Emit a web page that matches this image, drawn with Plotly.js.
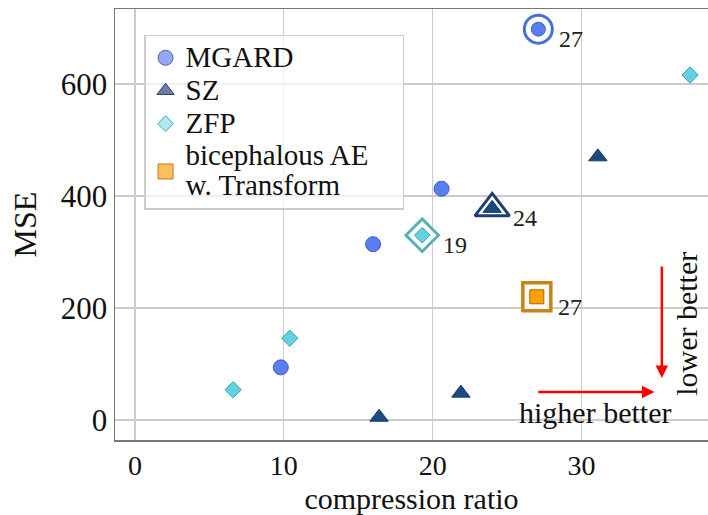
<!DOCTYPE html>
<html><head><meta charset="utf-8">
<script src="https://cdn.plot.ly/plotly-3.0.1.min.js"></script>
<style>html,body{margin:0;padding:0;background:#fff}#chart{width:708px;height:515px}</style>
</head><body><div id="chart"></div>
<script>
// Data
const mgardX = [9.8, 16.0, 20.6];
const mgardY = [94, 314, 413];
const szX = [16.4, 21.9, 31.1];
const szY = [5, 48, 470];
const zfpX = [6.6, 10.4, 37.3];
const zfpY = [54, 146, 616];
// Highlighted (best) configurations with their labels
const bestMgardX = [27.1], bestMgardY = [698], bestMgardLabel = ['27'];
const bestSzX = [24.0], bestSzY = [378], bestSzLabel = ['24'];
const bestZfpX = [19.3], bestZfpY = [330], bestZfpLabel = ['19'];
const aeX = [27.0], aeY = [220], aeLabel = ['27'];
const legendNames = [['MGARD'], ['SZ'], ['ZFP'], ['bicephalous AE', 'w. Transform']];

const F = 'Liberation Serif, Times New Roman, serif';
const traces = [];
function pts(x, y, symbol, size, fill, line, lw) {
  traces.push({x, y, type: 'scatter', mode: 'markers', showlegend: false, hoverinfo: 'skip',
    marker: {symbol, size, color: fill, line: {color: line, width: lw}}});
}
pts(mgardX, mgardY, 'circle', 15, '#5a7ef0', '#3a5cc8', 1);
pts(szX, szY, 'triangle-up', 16, '#1d4a82', '#17386a', 1);
pts(zfpX, zfpY, 'diamond', 12.5, '#62d2e2', '#3a9fb0', 1);
// rings
pts(bestMgardX, bestMgardY, 'circle', 28, '#ffffff', '#4a6fd8', 3);
pts(bestSzX, bestSzY, 'triangle-up', 30, '#ffffff', '#1d3f72', 3);
pts(bestZfpX, bestZfpY, 'diamond', 25, '#ffffff', '#5ab0b8', 3);
pts(aeX, aeY, 'square', 28, '#ffffff', '#c88418', 3.5);
// inner
pts(bestMgardX, bestMgardY, 'circle', 14, '#5a7ef0', '#3a5cc8', 1);
pts(bestSzX, bestSzY, 'triangle-up', 16, '#1d4a82', '#17386a', 1);
pts(bestZfpX, bestZfpY, 'diamond', 12, '#62d2e2', '#3a9fb0', 1);
pts(aeX, aeY, 'square', 14, '#ffa000', '#a86400', 1);
// legend entries
const legSym = ['circle', 'triangle-up', 'diamond', 'square'];
const legSize = [15, 15, 12, 15];
const legFill = ['#93a8f2', '#6a80a6', '#aee8f0', '#ffbe5c'];
const legLine = ['#4a62b0', '#2a4070', '#4aa8b8', '#c07a20'];
const big = s => '<span style="font-size:29px">' + s + '</span>';
legendNames.forEach((n, i) => traces.push({x: [null], y: [null], type: 'scatter', mode: 'markers',
  name: n.map(big).join('<br>') + (i === 3 ? '' : ''),
  marker: {symbol: legSym[i], size: legSize[i], color: legFill[i], line: {color: legLine[i], width: 1}}}));
// widen the legend box a little (reference has spare room on the right)
traces[traces.length - 1].name = big(legendNames[3][0] + '&nbsp;&nbsp;&nbsp;&nbsp;') + '<br>' + big(legendNames[3][1]);

const ann = [];
function lab(x, y, t) {
  ann.push({x, y, text: t, showarrow: false, xanchor: 'left', yanchor: 'middle', xshift: 19, yshift: -10,
    font: {family: F, size: 24, color: '#222'}});
}
lab(bestMgardX[0], bestMgardY[0], bestMgardLabel[0]);
lab(bestSzX[0], bestSzY[0], bestSzLabel[0]);
lab(bestZfpX[0], bestZfpY[0], bestZfpLabel[0]);
lab(aeX[0], aeY[0], aeLabel[0]);
ann.push({x: 34.9, y: 50, ax: 27.0, ay: 50, axref: 'x', ayref: 'y', xref: 'x', yref: 'y', text: '',
  showarrow: true, arrowhead: 2, arrowsize: 1, arrowwidth: 2.5, arrowcolor: '#ff0000'});
ann.push({x: 35.4, y: 75, ax: 35.4, ay: 277, axref: 'x', ayref: 'y', xref: 'x', yref: 'y', text: '',
  showarrow: true, arrowhead: 2, arrowsize: 1, arrowwidth: 2.5, arrowcolor: '#ff0000'});
ann.push({x: 30.9, y: 14, text: 'higher better', showarrow: false, font: {family: F, size: 30, color: '#111'}});
ann.push({x: 37.1, y: 172, text: 'lower better', showarrow: false, textangle: -90, font: {family: F, size: 30, color: '#111'}});

const layout = {
  width: 708, height: 515,
  margin: {l: 115, r: 0, t: 9, b: 75},
  paper_bgcolor: '#fff', plot_bgcolor: '#fff',
  font: {family: F, color: '#111'},
  xaxis: {range: [-1.34, 38.5], tickvals: [0, 10, 20, 30], showgrid: true, gridcolor: '#cccccc', gridwidth: 1.3,
    zeroline: false, showline: true, linecolor: '#777', linewidth: 1.5, mirror: true, ticks: '',
    tickfont: {family: F, size: 28, color: '#111'},
    title: {text: 'compression ratio', font: {family: F, size: 30, color: '#111'}, standoff: 12}},
  yaxis: {range: [-35.7, 734], tickvals: [0, 200, 400, 600], showgrid: true, gridcolor: '#cccccc', gridwidth: 1.3,
    zeroline: false, showline: true, linecolor: '#777', linewidth: 1.5, mirror: true, ticks: '',
    tickfont: {family: F, size: 31, color: '#111'},
    title: {text: 'MSE', font: {family: F, size: 32, color: '#111'}, standoff: 14}},
  legend: {x: 0.049, y: 0.94, xanchor: 'left', yanchor: 'top', bgcolor: 'rgba(255,255,255,0.7)',
    bordercolor: '#cccccc', borderwidth: 1.5, font: {family: F, size: 23, color: '#111'},
    itemwidth: 30, tracegroupgap: 0},
  annotations: ann
};
Plotly.newPlot('chart', traces, layout, {staticPlot: true});
</script></body></html>
